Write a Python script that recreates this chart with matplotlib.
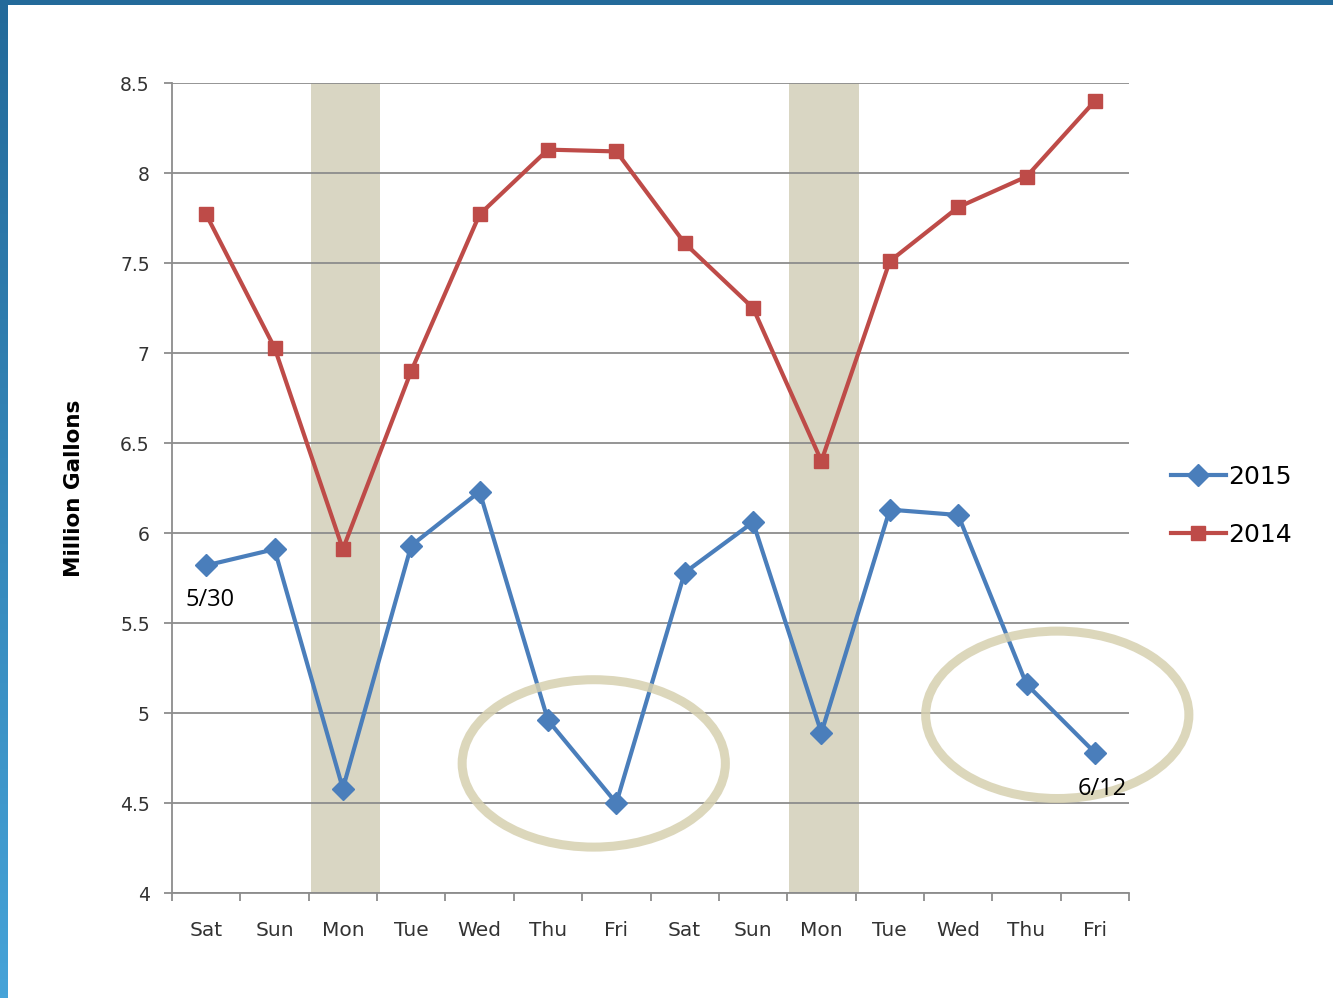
import matplotlib.pyplot as plt
import numpy as np
from matplotlib.patches import Ellipse

# Daily water use, million gallons (5/30 - 6/12)
days = ['Sat', 'Sun', 'Mon', 'Tue', 'Wed', 'Thu', 'Fri',
        'Sat', 'Sun', 'Mon', 'Tue', 'Wed', 'Thu', 'Fri']
use_2015 = [5.82, 5.91, 4.58, 5.93, 6.23, 4.96, 4.50,
            5.78, 6.06, 4.89, 6.13, 6.10, 5.16, 4.78]
use_2014 = [7.77, 7.03, 5.91, 6.90, 7.77, 8.13, 8.12,
            7.61, 7.25, 6.40, 7.51, 7.81, 7.98, 8.40]
shaded_days = [2, 9]

fig = plt.figure(figsize=(13.33, 9.98), dpi=100)
ax = fig.add_axes([0.129, 0.1052, 0.718, 0.8116])

x = np.arange(len(days))

# shaded Monday columns
for i in shaded_days:
    ax.axvspan(i - 0.47, i + 0.55, color='#d9d6c3', zorder=0, lw=0)

ax.plot(x, use_2015, color='#4a7ebb', lw=3, marker='D', markersize=11,
        label='2015', zorder=3)
ax.plot(x, use_2014, color='#be4b48', lw=3, marker='s', markersize=9.5,
        label='2014', zorder=3)

# circles highlighting the low Thu/Fri values
for cx, cy in [(5.67, 4.72), (12.45, 4.99)]:
    ax.add_patch(Ellipse((cx, cy), 3.85, 0.93, fill=False, clip_on=False,
                         edgecolor='#d6d0b0', alpha=0.85, lw=6.5, zorder=4))

ax.text(-0.3, 5.63, '5/30', fontsize=17, ha='left', va='center',
        family='Open Sans', zorder=5)
ax.text(13.1, 4.58, '6/12', fontsize=17, ha='center', va='center',
        family='Open Sans', zorder=5)

ax.set_xlim(-0.5, len(days) - 0.5)
ax.set_ylim(4, 8.5)
ax.set_yticks(np.arange(4, 8.51, 0.5))
ax.set_yticklabels(['4', '4.5', '5', '5.5', '6', '6.5', '7', '7.5', '8', '8.5'])
ax.yaxis.grid(True, color='#8c8c8c', lw=1.3)
ax.set_axisbelow(True)

ax.set_xticks(x)
ax.set_xticklabels(days)
ax.set_xticks(np.arange(-0.5, len(days)), minor=True)
ax.tick_params(axis='x', which='major', length=0, pad=20, labelsize=14.5,
               colors='#333333')
ax.tick_params(axis='x', which='minor', length=6, width=1.3, color='#8c8c8c')
ax.tick_params(axis='y', length=6, width=1.3, color='#8c8c8c', pad=10,
               labelsize=13.5, labelcolor='#333333')

for s in ['top', 'right']:
    ax.spines[s].set_visible(False)
for s in ['left', 'bottom']:
    ax.spines[s].set_color('#8c8c8c')
    ax.spines[s].set_linewidth(1.3)

ax.set_ylabel('Million Gallons', fontsize=15.5, fontweight='bold', labelpad=26)

ax.legend(loc='center left', bbox_to_anchor=(1.02, 0.478), frameon=False,
          fontsize=18, handlelength=2.2, handletextpad=0.1, labelspacing=1.35)

# slide frame: blue bars on top and left
fig.add_artist(plt.Rectangle((0, 0.995), 1, 0.005, transform=fig.transFigure,
                             color='#236a9a', lw=0))
grad = fig.add_axes([0, 0, 8 / 1333, 0.995])
grad.imshow(np.linspace(0, 1, 256).reshape(-1, 1), aspect='auto',
            cmap=plt.matplotlib.colors.LinearSegmentedColormap.from_list(
                'edge', ['#236a9a', '#46a3d8']))
grad.axis('off')

plt.savefig('out.png', dpi=100)
